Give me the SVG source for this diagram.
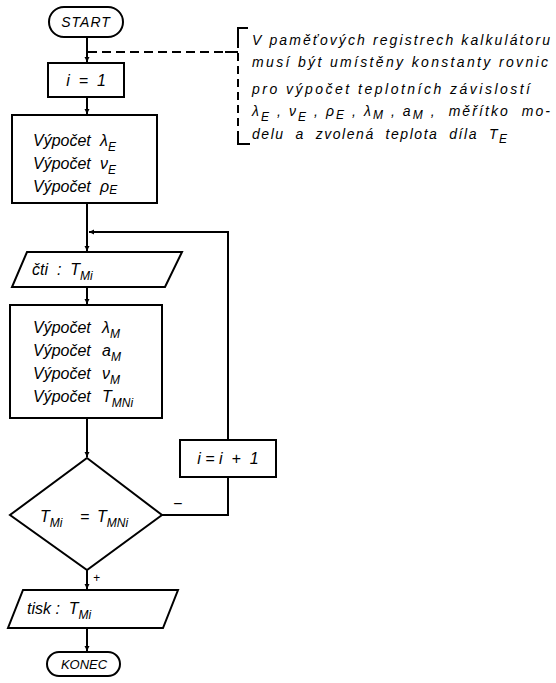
<svg xmlns="http://www.w3.org/2000/svg" width="556" height="683" viewBox="0 0 556 683">
<style>
.n{fill:#fff;stroke:#000;stroke-width:2}
.ln{fill:none;stroke:#000;stroke-width:2}
.t{font-family:"Liberation Sans",Arial,sans-serif;font-style:italic;font-size:16px;fill:#000}
.s{font-size:12px}
.a{font-family:"Liberation Sans",Arial,sans-serif;font-style:italic;font-size:14px;fill:#000}
</style>
<defs>
<marker id="ar" viewBox="0 0 10 10" refX="10" refY="5" markerWidth="5" markerHeight="7" orient="auto" markerUnits="userSpaceOnUse">
<path d="M0,0 L10,5 L0,10 z" fill="#000"/>
</marker>
</defs>
<g id="connectors">
<line class="ln" x1="87" y1="37" x2="87" y2="62" marker-end="url(#ar)"/>
<line class="ln" x1="87" y1="97" x2="87" y2="114" marker-end="url(#ar)"/>
<line class="ln" x1="87" y1="203" x2="87" y2="251" marker-end="url(#ar)"/>
<polyline class="ln" points="228,440 228,232 89,232" marker-end="url(#ar)"/>
<line class="ln" x1="87" y1="287" x2="87" y2="304" marker-end="url(#ar)"/>
<line class="ln" x1="87" y1="418" x2="87" y2="457" marker-end="url(#ar)"/>
<polyline class="ln" points="162,515 228,515 228,477"/>
<line class="ln" x1="87" y1="570" x2="87" y2="589" marker-end="url(#ar)"/>
<line class="ln" x1="87" y1="628" x2="87" y2="651" marker-end="url(#ar)"/>
<line class="ln" x1="88" y1="52" x2="225" y2="52" stroke-dasharray="9,5"/>
<line class="ln" x1="225" y1="52" x2="238" y2="52"/>
<text class="t" x="173" y="509">−</text>
<text class="t" x="93" y="582" style="font-size:12px">+</text>
</g>
<g id="start">
<rect class="n" x="49" y="7" width="74" height="30" rx="15"/>
<text class="t" x="86" y="27" text-anchor="middle" style="font-size:14px;letter-spacing:1px">START</text>
</g>
<g id="init">
<rect class="n" x="48" y="63" width="76" height="34"/>
<text class="t" x="86" y="86" text-anchor="middle" xml:space="preserve">i  =  1</text>
</g>
<g id="calcE">
<rect class="n" x="12" y="115" width="145" height="88"/>
<text class="t" x="33" y="146">Výpočet</text><text class="t" x="100" y="146">λ<tspan class="s" dy="5">E</tspan></text>
<text class="t" x="33" y="169">Výpočet</text><text class="t" x="100" y="169">ν<tspan class="s" dy="5">E</tspan></text>
<text class="t" x="33" y="192">Výpočet</text><text class="t" x="100" y="192">ρ<tspan class="s" dy="2">E</tspan></text>
</g>
<g id="read">
<polygon class="n" points="27,252 182,252 165,287 12,287"/>
<text class="t" x="32" y="275" xml:space="preserve">čti  :  T<tspan class="s" dy="5">Mi</tspan></text>
</g>
<g id="calcM">
<rect class="n" x="10" y="305" width="152" height="113"/>
<text class="t" x="33" y="333">Výpočet</text><text class="t" x="102" y="333">λ<tspan class="s" dy="5">M</tspan></text>
<text class="t" x="33" y="356">Výpočet</text><text class="t" x="102" y="356">a<tspan class="s" dy="5">M</tspan></text>
<text class="t" x="33" y="379">Výpočet</text><text class="t" x="102" y="379">ν<tspan class="s" dy="5">M</tspan></text>
<text class="t" x="33" y="402">Výpočet</text><text class="t" x="102" y="402">T<tspan class="s" dy="5">MNi</tspan></text>
</g>
<g id="decision">
<polygon class="n" points="87,458 162,515 87,570 10,515"/>
<text class="t" x="40" y="522">T<tspan class="s" dy="5">Mi</tspan></text>
<text class="t" x="80" y="522">=</text>
<text class="t" x="97" y="522">T<tspan class="s" dy="5">MNi</tspan></text>
</g>
<g id="inc">
<rect class="n" x="180" y="440" width="96" height="37"/>
<text class="t" x="228" y="464" text-anchor="middle" xml:space="preserve">i = i  +  1</text>
</g>
<g id="print">
<polygon class="n" points="23,590 178,590 163,628 8,628"/>
<text class="t" x="27" y="614" xml:space="preserve">tisk :  T<tspan class="s" dy="5">Mi</tspan></text>
</g>
<g id="end">
<rect class="n" x="47" y="652" width="73" height="24" rx="12"/>
<text class="t" x="84" y="669" text-anchor="middle" style="font-size:13px">KONEC</text>
</g>
<g id="note">
<polyline class="ln" points="248,28 238,28 238,40"/>
<line class="ln" x1="238" y1="40" x2="238" y2="133" stroke-dasharray="8,5"/>
<polyline class="ln" points="238,133 238,144 250,144"/>
<text class="a" x="252" y="45" textLength="298" lengthAdjust="spacing">V paměťových registrech kalkulátoru</text>
<text class="a" x="252" y="67" textLength="296" lengthAdjust="spacing">musí být umístěny konstanty rovnic</text>
<text class="a" x="252" y="94" textLength="278" lengthAdjust="spacing">pro výpočet teplotních závislostí</text>
<text class="a" x="252" y="116" textLength="298" lengthAdjust="spacing">λ<tspan class="s" dy="5">E</tspan><tspan dy="-5"> ,  ν</tspan><tspan class="s" dy="5">E</tspan><tspan dy="-5"> ,  ρ</tspan><tspan class="s" dy="3">E</tspan><tspan dy="-3"> ,  λ</tspan><tspan class="s" dy="3">M</tspan><tspan dy="-3"> ,  a</tspan><tspan class="s" dy="3">M</tspan><tspan dy="-3" xml:space="preserve"> ,  měřítko  mo-</tspan></text>
<text class="a" x="252" y="139" textLength="255" lengthAdjust="spacing" xml:space="preserve">delu  a  zvolená  teplota  díla  T<tspan class="s" dy="4">E</tspan></text>
</g>
</svg>
